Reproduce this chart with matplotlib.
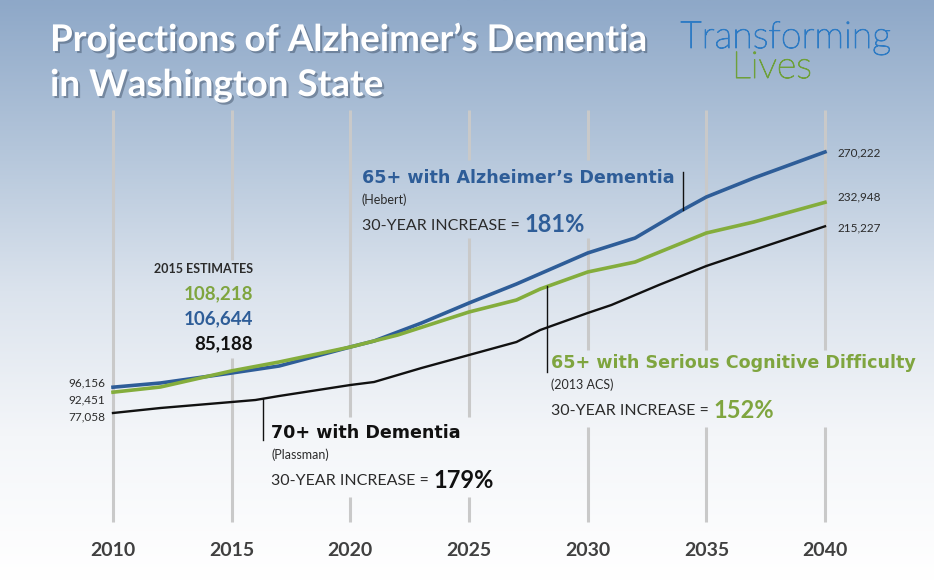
import numpy as np
import matplotlib
matplotlib.use("Agg")
import matplotlib.pyplot as plt
import matplotlib.patheffects as pe
from matplotlib.transforms import blended_transform_factory
from matplotlib.colors import LinearSegmentedColormap

# ---------------- data ----------------
years_alz = [2010, 2012, 2015, 2017, 2020, 2021, 2023, 2025, 2027, 2030, 2032, 2034, 2035, 2037, 2040]
alz_65 = [96156, 99258, 106644, 111838, 125898, 130338, 143658, 158458, 172518, 195458, 206558,
          227278, 236898, 250958, 270222]

years_cog = [2010, 2012, 2015, 2017, 2020, 2022, 2025, 2027, 2028, 2030, 2032, 2035, 2037, 2040]
cog_65 = [92451, 96298, 108218, 114798, 125898, 134778, 151798, 160678, 168818, 181398, 188798,
          210258, 218398, 232948]

years_dem = [2010, 2012, 2015, 2016, 2017, 2020, 2021, 2023, 2025, 2027, 2028, 2030, 2031, 2033,
             2035, 2037, 2040]
dem_70 = [77058, 80758, 85188, 86678, 89638, 97778, 99998, 110358, 119978, 129598, 138478, 151058,
          156978, 171778, 185838, 197678, 215227]

tick_years = [2010, 2015, 2020, 2025, 2030, 2035, 2040]
est_2015 = ["108,218", "106,644", "85,188"]
start_labels = ["96,156", "92,451", "77,058"]
end_labels = ["270,222", "232,948", "215,227"]

# ---------------- style ----------------
W, H = 934, 581
BLUE = "#2e5d98"
GREEN = "#84ad3c"
GREEN_T = "#7fa53f"
BLACK = "#111111"
DARK = "#2b2b2b"
FONT = "Lato"
WIDE = "DejaVu Sans"

fig = plt.figure(figsize=(W / 100, H / 100), dpi=100)
ax = fig.add_axes([0, 0, 1, 1])
ax.set_xlim(2005.239, 2044.593)
ax.set_ylim(-47262, 382678)
ax.axis("off")

# background gradient
cmap = LinearSegmentedColormap.from_list(
    "bg", [(0.0, "#8ea8c8"), (0.25, "#b3c5da"), (0.5, "#dbe3ed"), (0.75, "#f4f6f9"), (1.0, "#ffffff")])
grad = np.linspace(0, 1, 256).reshape(-1, 1)
ax.imshow(grad, cmap=cmap, aspect="auto", extent=[0, 1, 0, 1], transform=ax.transAxes, zorder=0)


def P(x, y):
    return x / W, 1 - y / H


# vertical grid lines with gaps behind text blocks
gaps = {2015: [(260, 358)], 2020: [(417, 497)], 2025: [(160, 238), (417, 497)],
        2030: [(160, 238), (350, 427)], 2035: [(350, 427)], 2040: [(350, 427)]}
bt = blended_transform_factory(ax.transData, fig.transFigure)
for yr in tick_years:
    segs = []
    start = 110
    for g0, g1 in gaps.get(yr, []):
        segs.append((start, g0))
        start = g1
    segs.append((start, 522))
    for a, b in segs:
        ax.plot([yr, yr], [1 - a / H, 1 - b / H], transform=bt, color="#c9c9c9", lw=2.2,
                zorder=1, solid_capstyle="butt")

# lines
ax.plot(years_dem, dem_70, color=BLACK, lw=1.7, zorder=3)
ax.plot(years_alz, alz_65, color=BLUE, lw=2.6, zorder=4)
ax.plot(years_cog, cog_65, color=GREEN, lw=2.6, zorder=5)

# leader lines
for yr, xs, ys, end_px in [(2034, years_alz, alz_65, 172),
                           (2028.3, years_cog, cog_65, 372),
                           (2016.3, years_dem, dem_70, 440)]:
    v = np.interp(yr, xs, ys)
    vfig = ax.transData.transform((yr, v))[1] / H
    ax.plot([yr, yr], [vfig, 1 - end_px / H], transform=bt, color=BLACK, lw=1.0, zorder=6)

# ---------------- text ----------------
shadow = [pe.SimplePatchShadow(offset=(1.5, -1.5), shadow_rgbFace="#3a4a60", alpha=0.45), pe.Normal()]
fig.text(*P(50, 51), "Projections of Alzheimer\u2019s Dementia", color="white", fontsize=26.5,
         fontweight="bold", family=FONT, va="baseline", path_effects=shadow)
fig.text(*P(50, 96), "in Washington State", color="white", fontsize=26.5,
         fontweight="bold", family=FONT, va="baseline", path_effects=shadow)

LOGO_B = "#2e7bc4"
LOGO_G = "#6ea03a"
fig.text(*P(786, 48), "Transforming", color=LOGO_B, fontsize=27, fontweight="light",
         family=FONT, ha="center", va="baseline",
         path_effects=[pe.withStroke(linewidth=0.7, foreground=LOGO_B)])
fig.text(*P(772, 78), "Lives", color=LOGO_G, fontsize=27, fontweight="light",
         family=FONT, ha="center", va="baseline",
         path_effects=[pe.withStroke(linewidth=0.7, foreground=LOGO_G)])

# year labels
for yr in tick_years:
    ax.text(yr, 1 - 550 / H, str(yr), transform=bt, ha="center", va="center", fontsize=14,
            fontweight="bold", family=FONT, color="#404040")

# start/end labels
for lab, ypx in zip(start_labels, [383, 400, 417]):
    fig.text(*P(105, ypx), lab, ha="right", va="center", fontsize=8.5, family=FONT, color=DARK)
for lab, ypx in zip(end_labels, [153, 197, 228]):
    fig.text(*P(837, ypx), lab, ha="left", va="center", fontsize=8.5, family=FONT, color=DARK)

# 2015 estimates
fig.text(*P(253, 269), "2015 ESTIMATES", ha="right", va="center", fontsize=9, fontweight="bold",
         family=FONT, color=DARK)
for lab, col, ypx in zip(est_2015, [GREEN_T, BLUE, BLACK], [294, 319, 344]):
    fig.text(*P(253, ypx), lab, ha="right", va="center", fontsize=13.5, fontweight="bold",
             family=FONT, color=col)

fig.canvas.draw()
renderer = fig.canvas.get_renderer()


def block(x, y, title, source, pct, col):
    fig.text(*P(x, y), title, ha="left", va="center", fontsize=12.6, fontweight="bold",
             family=WIDE, color=col)
    fig.text(*P(x, y + 22), source, ha="left", va="center", fontsize=9, family=FONT, color=DARK)
    t = fig.text(*P(x, y + 48), "30-YEAR INCREASE = ", ha="left", va="center", fontsize=11.5,
                 family=FONT, color=DARK)
    bb = t.get_window_extent(renderer)
    fig.text(bb.x1 / W, 1 - (y + 47) / H, pct, ha="left", va="center", fontsize=17,
             fontweight="bold", family=FONT, color=col)


block(362, 178, "65+ with Alzheimer\u2019s Dementia", "(Hebert)", "181%", BLUE)
block(551, 363, "65+ with Serious Cognitive Difficulty", "(2013 ACS)", "152%", GREEN_T)
block(271, 433, "70+ with Dementia", "(Plassman)", "179%", BLACK)

fig.savefig("out.png", dpi=100)
